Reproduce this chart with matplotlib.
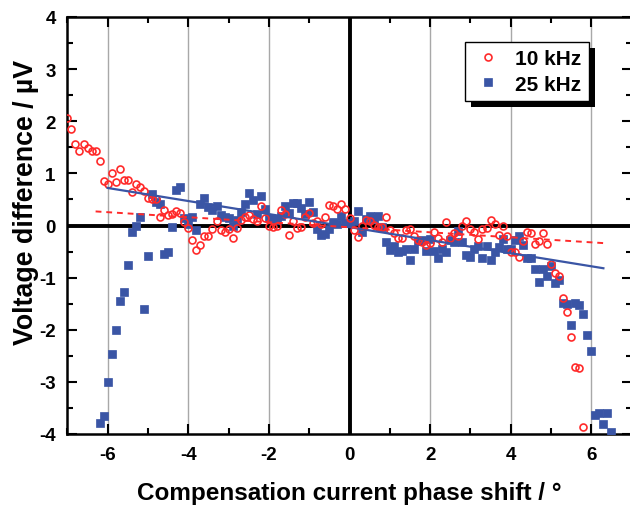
import numpy as np
import matplotlib
matplotlib.use("Agg")
import matplotlib.pyplot as plt
from matplotlib.patches import Rectangle
from matplotlib.ticker import MultipleLocator

# 10 kHz series (open red circles), x step 0.1 deg from -7.0 to 5.8
x_10k = np.round(np.arange(-70, 59) / 10.0, 1)
y_10k = [
    2.06, 1.86, 1.57, 1.43, 1.57, 1.49, 1.42, 1.42, 1.24, 0.85,
    0.79, 1.00, 0.83, 1.08, 0.88, 0.87, 0.64, 0.80, 0.74, 0.67,
    0.53, 0.50, 0.50, 0.16, 0.29, 0.20, 0.22, 0.27, 0.24, 0.06,
    -0.04, -0.28, -0.47, -0.37, -0.20, -0.20, -0.06, 0.08, -0.09, -0.12,
    -0.06, -0.24, -0.05, 0.10, 0.16, 0.20, 0.13, 0.08, 0.38, 0.15,
    0.00, -0.03, 0.00, 0.29, 0.22, -0.19, 0.08, -0.05, -0.03, 0.16,
    0.24, 0.04, 0.08, 0.03, 0.17, 0.40, 0.37, 0.32, 0.42, 0.31,
    0.14, -0.08, -0.22, 0.00, 0.11, 0.09, 0.01, -0.03, -0.03, 0.16,
    -0.08, -0.15, -0.24, -0.24, -0.08, -0.06, -0.20, -0.28, -0.31, -0.37,
    -0.34, -0.13, -0.24, -0.31, 0.06, -0.24, -0.14, -0.21, -0.01, 0.08,
    -0.06, -0.13, -0.25, -0.06, -0.05, 0.10, 0.03, -0.19, -0.01, -0.21,
    -0.50, -0.50, -0.61, -0.29, -0.12, -0.15, -0.36, -0.30, -0.15, -0.36,
    -0.74, -0.92, -0.97, -1.40, -1.65, -2.13, -2.71, -2.74, -3.86,
]

# 25 kHz series (filled blue squares), x step 0.1 deg from -6.2 to 6.5
x_25k = np.round(np.arange(-62, 66) / 10.0, 1)
y_25k = [
    -3.79, -3.66, -3.00, -2.47, -2.01, -1.45, -1.28, -0.75, -0.13, 0.00,
    0.16, -1.61, -0.58, 0.61, 0.45, 0.42, -0.54, -0.50, -0.03, 0.69,
    0.74, 0.15, 0.02, 0.16, -0.08, 0.42, 0.52, 0.36, 0.30, 0.37,
    0.20, 0.17, 0.15, -0.01, 0.10, 0.26, 0.42, 0.62, 0.49, 0.22,
    0.56, 0.32, 0.15, 0.12, 0.10, 0.18, 0.38, 0.24, 0.43, 0.43,
    0.34, 0.23, 0.46, 0.26, -0.06, -0.18, -0.17, -0.06, 0.07, 0.03,
    0.18, 0.05, 0.05, 0.08, 0.27, -0.13, 0.12, 0.19, 0.12, 0.19,
    -0.03, -0.31, -0.47, -0.40, -0.51, -0.48, -0.45, -0.67, -0.45, -0.30,
    -0.27, -0.48, -0.26, -0.49, -0.62, -0.46, -0.50, -0.27, -0.32, -0.10,
    -0.32, -0.56, -0.60, -0.46, -0.40, -0.62, -0.40, -0.67, -0.50, -0.42,
    -0.25, -0.46, -0.45, -0.28, -0.20, -0.37, -0.63, -0.62, -0.83, -1.09,
    -0.84, -0.96, -0.78, -1.10, -1.04, -1.49, -1.50, -1.90, -1.49, -1.53,
    -1.70, -2.10, -2.40, -3.63, -3.60, -3.81, -3.60, -3.97,
]

# linear fits (end points)
fit_10k_x = [-6.3, 6.35]
fit_10k_y = [0.27, -0.34]
fit_25k_x = [-6.0, 6.3]
fit_25k_y = [0.72, -0.82]

red = "#FF2A2A"
blue = "#3A55A5"

plt.rcParams['font.family'] = ['Liberation Sans', 'DejaVu Sans']
plt.rcParams['font.weight'] = 'bold'
plt.rcParams['axes.unicode_minus'] = False

fig = plt.figure(figsize=(6.3, 5.06), dpi=100)
ax = fig.add_axes([67.4 / 630, 1 - 435 / 506, (631.6 - 67.4) / 630, (435 - 18) / 506])

for gx in [-6, -4, -2, 2, 4, 6]:
    ax.axvline(gx, color="#A8A8A8", lw=1.0, zorder=0)
ax.axhline(0, color="black", lw=2.8, zorder=1)
ax.axvline(0, color="black", lw=2.8, zorder=1)

ax.plot(x_25k, y_25k, ls="none", marker="s", ms=5.4, mfc=blue, mec=blue,
        mew=0.5, zorder=3, label="25 kHz")
ax.plot(x_10k, y_10k, ls="none", marker="o", ms=5.0, mfc="none", mec=red,
        mew=1.2, zorder=4, label="10 kHz")
ax.plot(fit_25k_x, fit_25k_y, color=blue, lw=1.6, zorder=5)
ax.plot(fit_10k_x, fit_10k_y, color=red, lw=1.4, ls=(0, (3, 2.5)), zorder=5)

ax.set_xlim(-7, 7)
ax.set_ylim(-4, 4)
ax.xaxis.set_major_locator(MultipleLocator(2))
ax.xaxis.set_minor_locator(MultipleLocator(1))
ax.yaxis.set_major_locator(MultipleLocator(1))
ax.yaxis.set_minor_locator(MultipleLocator(0.5))
ax.tick_params(which="both", direction="in", top=True, right=True,
               width=1.5, labelsize=13.5, pad=8.4)
ax.tick_params(which="major", length=7)
ax.tick_params(which="minor", length=4)
for s in ax.spines.values():
    s.set_linewidth(1.8)

ax.set_xlabel("Compensation current phase shift / \u00b0", fontsize=17.5,
              fontweight="bold", labelpad=13)
ax.set_ylabel("Voltage difference / \u00b5V", fontsize=19.3,
              fontweight="bold")
ax.yaxis.set_label_coords((39 - 67.4) / 564.2, (435 - 202) / 417)

handles, labels = ax.get_legend_handles_labels()
leg = ax.legend(handles[::-1], labels[::-1], loc="upper right",
                bbox_to_anchor=(589 / 630, 1 - 43 / 506),
                bbox_transform=fig.transFigure, borderaxespad=0,
                fontsize=15, frameon=True, fancybox=False, framealpha=1,
                handletextpad=0.55, borderpad=0.35, labelspacing=0.3,
                handlelength=1.5)
leg.get_frame().set_edgecolor("black")
leg.get_frame().set_linewidth(1.0)
leg.set_zorder(10)
for t in leg.get_texts():
    t.set_fontweight("bold")

fig.canvas.draw()
bb = leg.get_window_extent()
shadow = Rectangle((bb.x0 + 6, bb.y0 - 6), bb.width, bb.height,
                   transform=None, facecolor="black", edgecolor="none",
                   zorder=9)
ax.add_artist(shadow)

fig.savefig("out.png", dpi=100)
